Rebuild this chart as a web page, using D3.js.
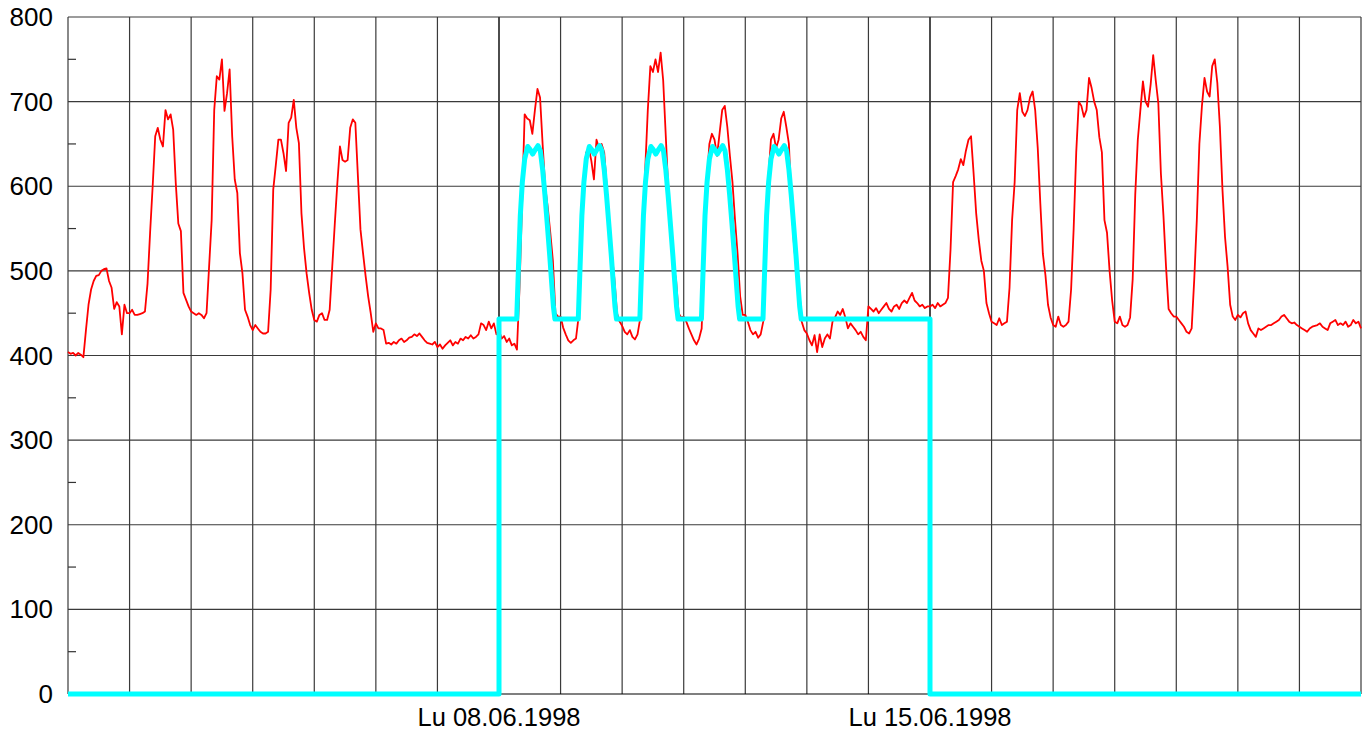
<!DOCTYPE html>
<html><head><meta charset="utf-8">
<script src="https://cdn.jsdelivr.net/npm/d3@7"></script>
<style>body{margin:0;background:#fff;}svg{display:block;}</style>
</head><body>
<svg id="chart" width="1369" height="731"></svg>
<script>
// ---------- data ----------
const startDate = [1998, 5, 1];           // Mon 01.06.1998 00:00
const dayGrid = [0,1,2,3,4,5,6,7,8,9,10,11,12,13,14,15,16,17,18,19,20,21];
const xLabelDays = [7, 14];
const xLabelTexts = ["Lu 08.06.1998", "Lu 15.06.1998"];
const yMajorTicks = [0,100,200,300,400,500,600,700,800];
const yMinorTicks = [50,150,250,350,450,550,650,750];

// red measured series, hourly values
const week1 = [
 404,402,403,400,403,401,398,430,460,478,488,494,495,500,502,503,488,480,455,463,458,425,460,450,
 450,454,448,448,449,450,452,485,545,600,659,669,655,647,690,679,685,667,604,556,547,474,466,458,
 452,450,448,450,448,444,450,505,560,690,730,726,750,689,710,738,659,608,592,521,497,454,446,436,
 430,436,432,428,426,426,428,478,596,625,655,655,639,618,675,681,702,669,651,568,527,497,474,454,
 442,440,448,450,442,442,454,505,556,604,647,631,629,631,669,679,675,612,549,521,494,470,450,428,
 438,432,432,430,414,415,413,416,414,418,420,416,418,421,422,425,423,426,422,418,415,414,413,416,
 410,413,408,412,415,418,412,416,414,420,418,422,420,424,420,422,425,438,436,430,440,432,438,425
];
const week2 = [
 430,420,423,416,420,412,414,407,480,580,685,680,678,662,690,715,705,650,600,575,545,512,450,446,
 446,433,425,418,415,418,420,445,540,610,640,645,630,608,655,645,650,640,600,540,520,490,450,440,
 435,428,425,430,422,419,425,443,540,620,690,742,735,750,735,758,725,660,595,560,506,490,450,445,
 446,440,432,425,418,413,420,432,520,605,650,662,655,636,663,690,695,670,636,605,560,520,470,448,
 448,440,430,425,428,421,425,440,540,610,655,662,645,655,680,688,670,650,580,530,500,480,440,430,
 426,418,412,424,404,425,410,420,425,420,440,445,452,448,455,445,432,438,434,430,425,428,422,418,
 458,455,452,456,450,454,458,462,455,452,458,460,455,462,465,462,468,474,465,462,458,460,456,458
];
const week3 = [
 458,460,456,462,458,460,462,468,525,605,612,620,632,625,642,655,659,615,568,537,512,500,462,450,
 440,438,436,444,436,438,440,480,560,605,690,710,688,683,690,705,712,690,645,580,520,495,460,445,
 436,434,446,436,434,436,440,478,550,640,700,695,682,690,728,716,700,690,658,640,560,545,500,465,
 440,438,446,436,434,436,445,490,590,655,690,724,700,694,720,755,725,698,615,565,505,455,450,446,
 446,442,438,434,428,426,432,490,560,650,695,728,712,706,742,750,722,670,596,540,505,460,446,442,
 448,445,450,452,438,430,426,422,432,430,432,434,436,436,438,440,442,446,448,444,440,438,439,436,
 434,432,430,428,432,434,435,436,438,434,432,430,438,440,442,436,438,436,440,434,436,442,438,440,
 432
];

// cyan model series: hours from start, values
const cyanHours = [
 0,168,168,
 174.9,175.6,176.3,177.1,178,179.2,180.2,181.1,182.1,183.2,184.1,185,185.9,186.9,187.8,188.5,189.2,189.8,
 198.9,199.6,200.3,201.1,202,203.2,204.2,205.1,206.1,207.2,208.1,209,209.9,210.9,211.8,212.5,213.2,213.8,
 222.9,223.6,224.3,225.1,226,227.2,228.2,229.1,230.1,231.2,232.1,233,233.9,234.9,235.8,236.5,237.2,237.8,
 246.9,247.6,248.3,249.1,250,251.2,252.2,253.1,254.1,255.2,256.1,257,257.9,258.9,259.8,260.5,261.2,261.8,
 270.9,271.6,272.3,273.1,274,275.2,276.2,277.1,278.1,279.2,280.1,281,281.9,282.9,283.8,284.5,285.2,285.8,
 336,336,504
];
const cyanValues = [
 0,0,443,
 443,505,565,605,632,647,643,638,643,648,642,620,590,552,517,487,458,443,
 443,505,565,605,632,647,643,638,643,648,642,620,590,552,517,487,458,443,
 443,505,565,605,632,647,643,638,643,648,642,620,590,552,517,487,458,443,
 443,505,565,605,632,647,643,638,643,648,642,620,590,552,517,487,458,443,
 443,505,565,605,632,647,643,638,643,648,642,620,590,552,517,487,458,443,
 443,0,0
];

// ---------- chart ----------
const svg = d3.select("#chart");
const X0 = 68, X1 = 1361, Y0 = 694, Y1 = 17;
const t0 = new Date(startDate[0], startDate[1], startDate[2]);
const hourDate = h => new Date(t0.getTime() + h * 3600000);
const x = d3.scaleTime().domain([hourDate(0), hourDate(504)]).range([X0, X1]);
const y = d3.scaleLinear().domain([0, 800]).range([Y0, Y1]);

const g = svg.append("g");

// vertical day grid
g.selectAll("line.vg").data(dayGrid).enter().append("line")
  .attr("x1", d => x(hourDate(d*24))).attr("x2", d => x(hourDate(d*24)))
  .attr("y1", y(800)).attr("y2", y(0))
  .attr("stroke", d => (d === 7 || d === 14) ? "#000" : "#3a3a3a")
  .attr("stroke-width", d => (d === 7 || d === 14) ? 1.4 : 1.2);

// horizontal grid
g.selectAll("line.hg").data(yMajorTicks).enter().append("line")
  .attr("x1", X0).attr("x2", X1)
  .attr("y1", d => y(d)).attr("y2", d => y(d))
  .attr("stroke", d => d === 0 ? "#000" : "#3a3a3a").attr("stroke-width", 1.2);

// minor ticks
g.selectAll("line.mt").data(yMinorTicks).enter().append("line")
  .attr("x1", X0).attr("x2", X0 + 8)
  .attr("y1", d => y(d)).attr("y2", d => y(d))
  .attr("stroke", "#333").attr("stroke-width", 1.2);

// y labels
g.selectAll("text.yl").data(yMajorTicks).enter().append("text")
  .attr("x", 53).attr("y", d => y(d) + 9)
  .attr("text-anchor", "end")
  .attr("font-family", "Liberation Sans, Arial, sans-serif")
  .attr("font-size", 26).attr("fill", "#000")
  .text(d => d);

// x labels
g.selectAll("text.xl").data(xLabelDays).enter().append("text")
  .attr("x", d => x(hourDate(d*24))).attr("y", 726)
  .attr("text-anchor", "middle")
  .attr("font-family", "Liberation Sans, Arial, sans-serif")
  .attr("font-size", 25.5).attr("fill", "#000")
  .text((d, i) => xLabelTexts[i]);

// red series
const redValues = week1.concat(week2, week3);
const redLine = d3.line()
  .x((d, i) => x(hourDate(i)))
  .y(d => y(d))
  .curve(d3.curveLinear);
g.append("path").datum(redValues)
  .attr("d", redLine)
  .attr("fill", "none").attr("stroke", "#ff0000")
  .attr("stroke-width", 1.8).attr("stroke-linejoin", "round");

// cyan series
const cyanLine = d3.line()
  .x((d, i) => x(hourDate(cyanHours[i])))
  .y(d => y(d))
  .curve(d3.curveLinear);
g.append("path").datum(cyanValues)
  .attr("d", cyanLine)
  .attr("fill", "none").attr("stroke", "#00ffff")
  .attr("stroke-width", 5).attr("stroke-linejoin", "round");
</script>
</body></html>
